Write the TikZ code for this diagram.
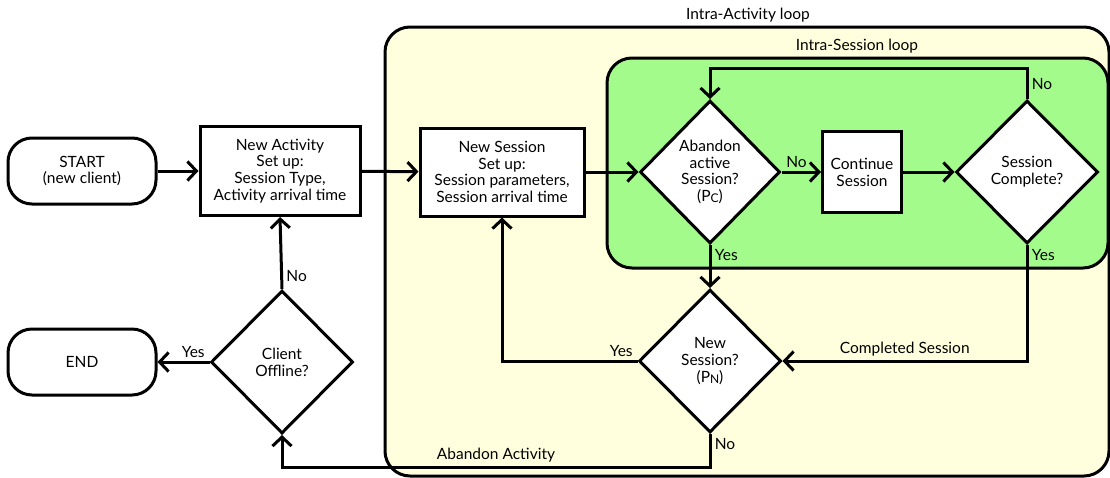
\documentclass[tikz,border=0pt]{standalone}
\usepackage{fontspec}
\setmainfont{Lato}
\usetikzlibrary{shapes.geometric,arrows.meta}
\definecolor{loopYellow}{HTML}{FFFFDD}
\definecolor{loopGreen}{HTML}{A3FB8C}
\newcommand{\prob}[1]{(P\raisebox{-0.15ex}{\fontsize{12}{12}\selectfont #1})}

\begin{document}
\begin{tikzpicture}[x=1pt, y=-1pt, line width=3pt,
        every node/.style={font=\fontsize{15.5}{16.8}\selectfont, align=center},
        terminal/.style={draw, fill=white, rounded corners=24pt, minimum width=148pt, minimum height=66pt},
        process/.style={draw, fill=white, inner sep=2pt},
        decision/.style={draw, fill=white, diamond, minimum width=142pt, minimum height=143pt, inner sep=0pt},
        flow/.style={-{Straight Barb[length=9pt,width=19pt]}}]
        \useasboundingbox (0,0) rectangle (1110,477);

        % Loops.
        \draw[fill=loopYellow, rounded corners=25pt] (385,27) rectangle (1109,476);
        \node (actLoop) at (748,15) {Intra-Activity loop};
        \draw[fill=loopGreen, rounded corners=25pt] (607,58) rectangle (1108,268);
        \node (sesLoop) at (857,46) {Intra-Session loop};

        % Steps.
        \node[terminal] (start) at (82,171) {START\\(new client)};
        \node[process, minimum width=160pt, minimum height=89pt] (activity) at (280,171)
            {New Activity\\Set up:\\Session Type,\\Activity arrival time};
        \node[terminal] (end) at (82,362) {END};
        \node[decision] (offline) at (282,362) {Client\\Offline?};
        \node[process, minimum width=164pt, minimum height=88pt] (session) at (502,172)
            {New Session\\Set up:\\Session parameters,\\Session arrival time};
        \node[decision, minimum width=140pt] (abandon) at (710,172) {Abandon\\active\\Session?\\\prob{C}};
        \node[process, minimum width=79pt, minimum height=81pt] (continue) at (862,172) {Continue\\Session};
        \node[decision] (complete) at (1027,172) {Session\\Complete?};
        \node[decision] (newSession) at (710,361) {New\\Session?\\\prob{N}};

        \coordinate (topLoop) at (1027,68);
        \coordinate (abandonTurn) at (710,467);

        % Connectors.
        \draw[flow] (start) -- (activity);
        \draw[flow] (activity) -- (session);
        \draw[flow] (session) -- (abandon);
        \draw[flow] (abandon.east) node[above right] (noCont) {No} -- (continue.west);
        \draw[flow] (continue) -- (complete);
        \draw[flow] (complete.north) -- node[right] (noComp) {No} (topLoop) -| (abandon.north);
        \draw[flow] (abandon.south) node[below right] (yesAband) {Yes} -- (newSession.north);
        \draw[flow] (complete.south) node[below right] (yesComp) {Yes} |- (newSession.east)
            node[pos=0.75, above] (doneLbl) {Completed Session};
        \draw[flow] (newSession.west) node[above left] (yesNew) {Yes} -| (session.south);
        \draw[flow] (newSession.south) node[below right] (noNew) {No} -- (abandonTurn)
            -| node[pos=0.25, above] (abandLbl) {Abandon Activity} (offline.south);
        \draw[flow] (offline.west) node[above left] (yesOff) {Yes} -- (end.east);
        \draw[flow] (offline.north) -- node[pos=0.18, right] (noOff) {No} (activity.south);
    \end{tikzpicture}
\end{document}
